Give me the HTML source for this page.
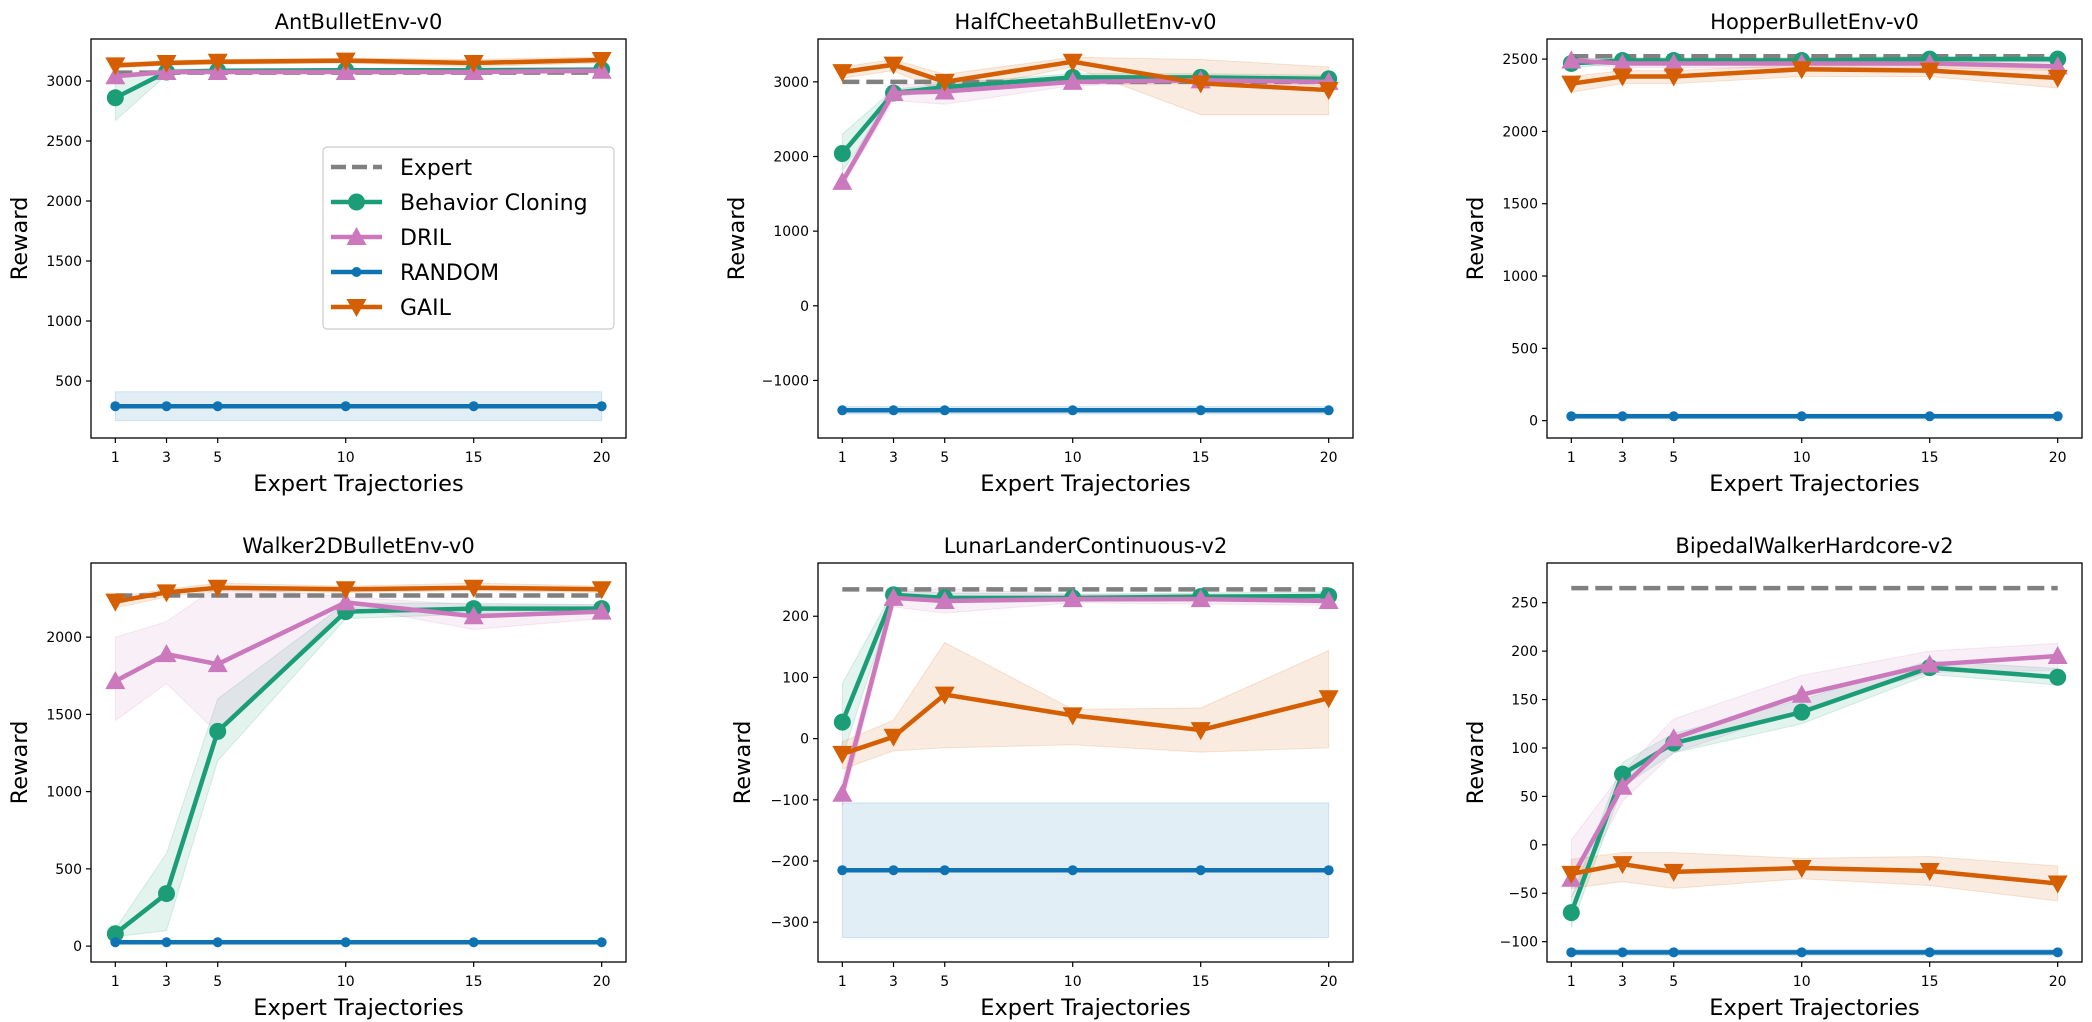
<!DOCTYPE html>
<html><head><meta charset="utf-8"><style>
html,body{margin:0;padding:0;background:#fff;}
svg{display:block;font-family:"DejaVu Sans","Liberation Sans",sans-serif;}
</style></head><body>
<svg id="fig" width="2092" height="1022" viewBox="0 0 2092 1022" xmlns="http://www.w3.org/2000/svg"></svg>
<script>
const xs = [1,3,5,10,15,20];
const titles = ["AntBulletEnv-v0","HalfCheetahBulletEnv-v0","HopperBulletEnv-v0","Walker2DBulletEnv-v0","LunarLanderContinuous-v2","BipedalWalkerHardcore-v2"];
const yTicks = [[500,1000,1500,2000,2500,3000],[-1000,0,1000,2000,3000],[0,500,1000,1500,2000,2500],[0,500,1000,1500,2000],[-300,-200,-100,0,100,200],[-100,-50,0,50,100,150,200,250]];
const yRange = [[25,3350],[-1771,3574],[-120,2639],[-103,2480],[-365,287],[-121,291]];
const expert = [3070,3000,2520,2270,244,265];
const bc = [[2860,3075,3085,3090,3090,3095],[2040,2850,2930,3060,3060,3040],[2470,2490,2490,2490,2500,2500],[80,340,1390,2165,2185,2185],[27,235,230,230,232,233],[-70,73,105,137,183,173]];
const bcLo = [[2670,3050,3070,3075,3075,3080],[1800,2800,2880,3000,3000,3000],[2440,2470,2470,2470,2480,2480],[60,100,1200,2120,2150,2160],[-30,228,222,224,225,225],[-85,60,95,125,176,165]];
const bcHi = [[3050,3100,3100,3105,3105,3110],[2300,2900,2980,3110,3110,3090],[2500,2510,2510,2510,2520,2520],[110,600,1600,2220,2220,2210],[90,242,238,236,238,240],[-55,85,115,150,190,182]];
const dril = [[3040,3075,3075,3075,3075,3085],[1660,2850,2870,3000,3020,3000],[2490,2470,2470,2470,2470,2450],[1715,1890,1825,2225,2135,2165],[-90,230,225,228,228,225],[-35,60,110,155,186,195]];
const drilLo = [[3020,3060,3060,3060,3060,3070],[1600,2750,2700,2950,2980,2950],[2470,2440,2440,2440,2440,2420],[1460,1700,1380,2200,2050,2120],[-110,215,205,222,220,218],[-55,45,95,140,178,180]];
const drilHi = [[3060,3090,3090,3090,3090,3100],[1720,2950,3000,3050,3060,3060],[2510,2500,2500,2500,2500,2480],[2000,2100,2330,2260,2210,2210],[-70,243,245,236,236,232],[5,75,130,175,200,208]];
const rnd = [290,-1400,30,25,-215,-111];
const rndLo = [170,-1450,15,15,-325,-114];
const rndHi = [410,-1350,45,35,-105,-108];
const gail = [[3130,3150,3160,3170,3150,3175],[3130,3230,3000,3270,2980,2890],[2330,2380,2380,2430,2420,2370],[2230,2290,2320,2310,2320,2310],[-25,3,72,38,14,66],[-30,-20,-28,-24,-27,-40]];
const gailLo = [[3110,3130,3140,3150,3120,3150],[3050,3150,2850,3200,2560,2560],[2270,2330,2330,2380,2380,2300],[2190,2260,2300,2290,2300,2290],[-50,-20,-15,-10,-22,-15],[-45,-38,-45,-35,-42,-58]];
const gailHi = [[3150,3170,3180,3190,3180,3200],[3200,3300,3100,3330,3300,3200],[2380,2420,2420,2460,2460,2430],[2260,2310,2350,2330,2350,2330],[-5,30,157,48,50,144],[-15,-8,-8,-14,-12,-22]];

const colL = [91,818,1547], rowT = [39,563], W = 535, H = 399;
const C = {bc:"#1b9e77", dril:"#cc78bc", rnd:"#0f72b2", gail:"#d55e00", exp:"#808080"};
const NS = "http://www.w3.org/2000/svg";
const fig = document.getElementById("fig");
function mk(tag, attrs, parent){const e=document.createElementNS(NS,tag);for(const k in attrs)e.setAttribute(k,attrs[k]);(parent||fig).appendChild(e);return e;}

function marker(g, kind, cx, cy, col){
  let m;
  if(kind==="circle"){m=mk("circle",{cx:cx,cy:cy,r:8.5,fill:col},g);}
  else if(kind==="small"){m=mk("circle",{cx:cx,cy:cy,r:5,fill:col},g);}
  else if(kind==="up"){const s=10;m=mk("polygon",{points:`${cx},${cy-s} ${cx-s},${cy+s*0.8} ${cx+s},${cy+s*0.8}`,fill:col},g);}
  else {const s=10;m=mk("polygon",{points:`${cx},${cy+s} ${cx-s},${cy-s*0.8} ${cx+s},${cy-s*0.8}`,fill:col},g);}
  
  
}

for(let p=0;p<6;p++){
  const L = colL[p%3], T = rowT[Math.floor(p/3)];
  const [y0,y1] = yRange[p];
  const X = v => L + (v-0.05)/20.9*W;
  const Y = v => T + (y1-v)/(y1-y0)*H;
  const g = mk("g",{});
  
  
  const clipId="c"+p;
  const cp=mk("clipPath",{id:clipId},g); mk("rect",{x:L,y:T,width:W,height:H},cp);
  const pg = mk("g",{"clip-path":`url(#${clipId})`},g);

  function band(lo,hi,col,op,name){
    let pts=xs.map((x,i)=>`${X(x)},${Y(hi[i])}`).concat(xs.slice().reverse().map((x,j)=>{const i=xs.length-1-j;return `${X(x)},${Y(lo[i])}`;}));
    const b=mk("polygon",{points:pts.join(" "),fill:col,"fill-opacity":op,stroke:col,"stroke-opacity":op*1.3,"stroke-width":1},pg);
    
    
  }
  function line(vals,col,kind,name){
    const l=mk("polyline",{points:xs.map((x,i)=>`${X(x)},${Y(vals[i])}`).join(" "),fill:"none",stroke:col,"stroke-width":4.5,"stroke-linejoin":"round"},pg);
    
    
    xs.forEach((x,i)=>marker(pg,kind,X(x),Y(vals[i]),col));
  }
  const rl=xs.map(()=>rnd[p]);
  band(rl.map(()=>rndLo[p]),rl.map(()=>rndHi[p]),C.rnd,0.12,'random-band');
  band(bcLo[p],bcHi[p],C.bc,0.12,'bc-band');
  band(drilLo[p],drilHi[p],C.dril,0.12,'dril-band');
  band(gailLo[p],gailHi[p],C.gail,0.12,'gail-band');
  const ex=mk("line",{x1:X(1),x2:X(20),y1:Y(expert[p]),y2:Y(expert[p]),stroke:C.exp,"stroke-width":4.5,"stroke-dasharray":"17 7"},pg);
  
  
  line(bc[p],C.bc,"circle",'bc-line');
  line(dril[p],C.dril,"up",'dril-line');
  line(rl,C.rnd,"small",'random-line');
  line(gail[p],C.gail,"down",'gail-line');

  const fr=mk("rect",{x:L,y:T,width:W,height:H,fill:"none",stroke:"#000","stroke-width":1.3},g);
  
  
  xs.forEach(x=>{
    mk("line",{x1:X(x),x2:X(x),y1:T+H,y2:T+H+5,stroke:"#000","stroke-width":1.2},g);
    const t=mk("text",{x:X(x),y:T+H+24,"text-anchor":"middle","font-size":14},g);t.textContent=x;
    
    
  });
  yTicks[p].forEach(v=>{
    mk("line",{x1:L-5,x2:L,y1:Y(v),y2:Y(v),stroke:"#000","stroke-width":1.2},g);
    const t=mk("text",{x:L-9,y:Y(v)+5,"text-anchor":"end","font-size":14},g);t.textContent=(v<0?"\u2212"+(-v):v);
    
    
  });
  const tt=mk("text",{x:L+W/2,y:T-10,"text-anchor":"middle","font-size":21},g);tt.textContent=titles[p];
  
  
  const xl=mk("text",{x:L+W/2,y:T+H+53,"text-anchor":"middle","font-size":22.5},g);xl.textContent="Expert Trajectories";
  
  
  const ylx = L - (p===1?78:(p===4?72:68)) + 4;
  const yl=mk("text",{x:ylx,y:T+H/2,"text-anchor":"middle","font-size":22.5,transform:`rotate(-90 ${ylx} ${T+H/2})`},g);yl.textContent="Reward";
  
  
}

// legend
const lg=mk("g",{});


mk("rect",{x:323,y:147,width:291,height:182,rx:4,fill:"#fff","fill-opacity":0.85,stroke:"#ccc","stroke-width":1.2},lg);
const entries=[["Expert",C.exp,"dash"],["Behavior Cloning",C.bc,"circle"],["DRIL",C.dril,"up"],["RANDOM",C.rnd,"small"],["GAIL",C.gail,"down"]];
entries.forEach((e,i)=>{
  const y=167+i*35;
  const eg=mk("g",{},lg);
  
  
  mk("line",{x1:331,x2:382,y1:y,y2:y,stroke:e[1],"stroke-width":4.5,"stroke-dasharray":e[2]==="dash"?"15 6":"none"},eg);
  if(e[2]!=="dash") marker(eg,e[2],356.5,y,e[1]);
  const t=mk("text",{x:400,y:y+8,"font-size":22},eg);t.textContent=e[0];
});
</script>
</body></html>
